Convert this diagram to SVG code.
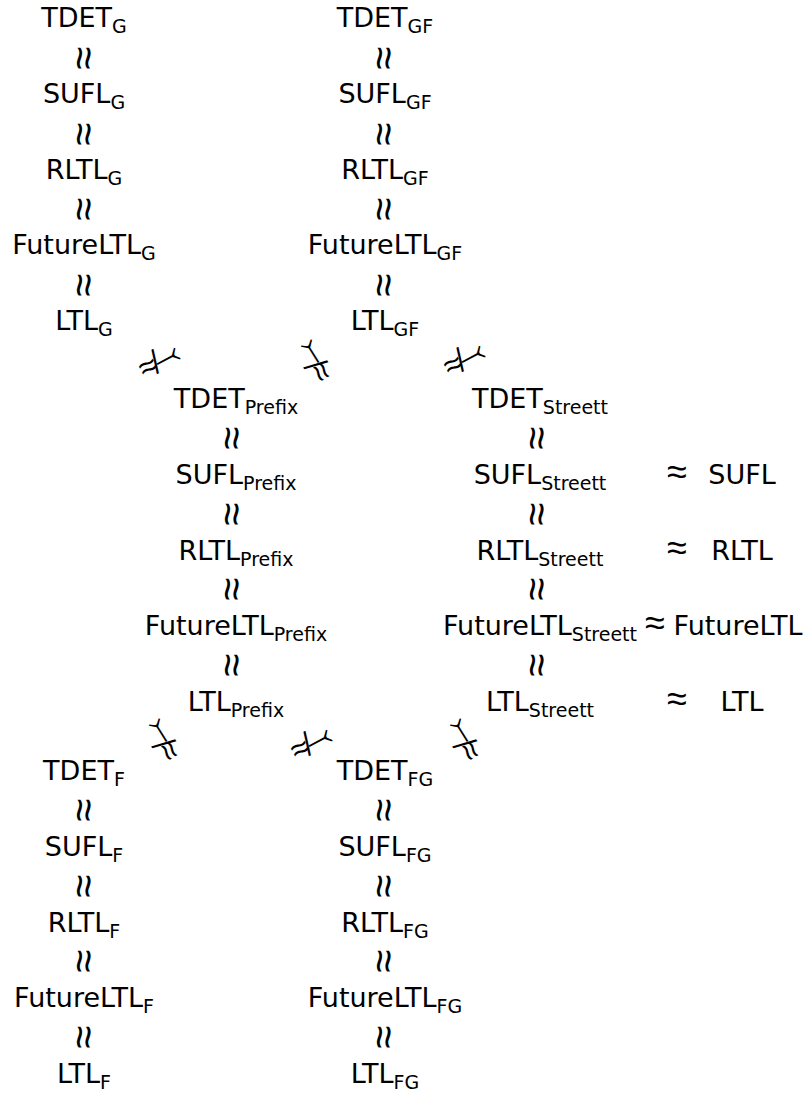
<svg xmlns="http://www.w3.org/2000/svg" width="810" height="1099" viewBox="0 0 810 1099">
<style>
text { font-family: "DejaVu Sans", "Liberation Sans", sans-serif; fill: #000; }
.n { font-size: 27px; text-anchor: middle; }
.s { font-size: 19px; }
.r { font-size: 27px; text-anchor: middle; }
.eq { font-size: 42px; font-weight: 200; text-anchor: middle; dominant-baseline: central; }
.eqh { font-size: 36px; font-weight: 200; text-anchor: middle; }
.d { font-size: 32px; font-weight: 200; text-anchor: middle; dominant-baseline: central; }
</style>
<rect width="810" height="1099" fill="#fff"/>

<!-- G family -->
<g id="tdet-g"><text class="n" x="84" y="27">TDET<tspan class="s" dy="6">G</tspan></text></g>
<g id="sufl-g"><text class="n" x="84" y="103">SUFL<tspan class="s" dy="6">G</tspan></text></g>
<g id="rltl-g"><text class="n" x="84" y="179">RLTL<tspan class="s" dy="6">G</tspan></text></g>
<g id="futureltl-g"><text class="n" x="84" y="254">FutureLTL<tspan class="s" dy="6">G</tspan></text></g>
<g id="ltl-g"><text class="n" x="84" y="330">LTL<tspan class="s" dy="6">G</tspan></text></g>

<!-- GF family -->
<g id="tdet-gf"><text class="n" x="385" y="27">TDET<tspan class="s" dy="6">GF</tspan></text></g>
<g id="sufl-gf"><text class="n" x="385" y="103">SUFL<tspan class="s" dy="6">GF</tspan></text></g>
<g id="rltl-gf"><text class="n" x="385" y="179">RLTL<tspan class="s" dy="6">GF</tspan></text></g>
<g id="futureltl-gf"><text class="n" x="385" y="254">FutureLTL<tspan class="s" dy="6">GF</tspan></text></g>
<g id="ltl-gf"><text class="n" x="385" y="330">LTL<tspan class="s" dy="6">GF</tspan></text></g>

<!-- Prefix family -->
<g id="tdet-prefix"><text class="n" x="236" y="408">TDET<tspan class="s" dy="6">Prefix</tspan></text></g>
<g id="sufl-prefix"><text class="n" x="236" y="484">SUFL<tspan class="s" dy="6">Prefix</tspan></text></g>
<g id="rltl-prefix"><text class="n" x="236" y="560">RLTL<tspan class="s" dy="6">Prefix</tspan></text></g>
<g id="futureltl-prefix"><text class="n" x="236" y="635">FutureLTL<tspan class="s" dy="6">Prefix</tspan></text></g>
<g id="ltl-prefix"><text class="n" x="236" y="711">LTL<tspan class="s" dy="6">Prefix</tspan></text></g>

<!-- Streett family -->
<g id="tdet-streett"><text class="n" x="540" y="408">TDET<tspan class="s" dy="6">Streett</tspan></text></g>
<g id="sufl-streett"><text class="n" x="540" y="484">SUFL<tspan class="s" dy="6">Streett</tspan></text></g>
<g id="rltl-streett"><text class="n" x="540" y="560">RLTL<tspan class="s" dy="6">Streett</tspan></text></g>
<g id="futureltl-streett"><text class="n" x="540" y="635">FutureLTL<tspan class="s" dy="6">Streett</tspan></text></g>
<g id="ltl-streett"><text class="n" x="540" y="711">LTL<tspan class="s" dy="6">Streett</tspan></text></g>

<!-- unrestricted logics -->
<g id="sufl"><text class="r" x="742" y="484">SUFL</text></g>
<g id="rltl"><text class="r" x="742" y="560">RLTL</text></g>
<g id="futureltl"><text class="r" x="738" y="635">FutureLTL</text></g>
<g id="ltl"><text class="r" x="742" y="711">LTL</text></g>

<!-- F family -->
<g id="tdet-f"><text class="n" x="84" y="780">TDET<tspan class="s" dy="6">F</tspan></text></g>
<g id="sufl-f"><text class="n" x="84" y="856">SUFL<tspan class="s" dy="6">F</tspan></text></g>
<g id="rltl-f"><text class="n" x="84" y="932">RLTL<tspan class="s" dy="6">F</tspan></text></g>
<g id="futureltl-f"><text class="n" x="84" y="1007">FutureLTL<tspan class="s" dy="6">F</tspan></text></g>
<g id="ltl-f"><text class="n" x="84" y="1083">LTL<tspan class="s" dy="6">F</tspan></text></g>

<!-- FG family -->
<g id="tdet-fg"><text class="n" x="385" y="780">TDET<tspan class="s" dy="6">FG</tspan></text></g>
<g id="sufl-fg"><text class="n" x="385" y="856">SUFL<tspan class="s" dy="6">FG</tspan></text></g>
<g id="rltl-fg"><text class="n" x="385" y="932">RLTL<tspan class="s" dy="6">FG</tspan></text></g>
<g id="futureltl-fg"><text class="n" x="385" y="1007">FutureLTL<tspan class="s" dy="6">FG</tspan></text></g>
<g id="ltl-fg"><text class="n" x="385" y="1083">LTL<tspan class="s" dy="6">FG</tspan></text></g>

<g id="connectors">
  <!-- vertical equivalences -->
  <text class="eq" transform="translate(84,58) rotate(90)">≈</text>
  <text class="eq" transform="translate(84,134) rotate(90)">≈</text>
  <text class="eq" transform="translate(84,209) rotate(90)">≈</text>
  <text class="eq" transform="translate(84,285) rotate(90)">≈</text>
  <text class="eq" transform="translate(384,58) rotate(90)">≈</text>
  <text class="eq" transform="translate(384,134) rotate(90)">≈</text>
  <text class="eq" transform="translate(384,209) rotate(90)">≈</text>
  <text class="eq" transform="translate(384,285) rotate(90)">≈</text>
  <text class="eq" transform="translate(232,438) rotate(90)">≈</text>
  <text class="eq" transform="translate(232,514) rotate(90)">≈</text>
  <text class="eq" transform="translate(232,589) rotate(90)">≈</text>
  <text class="eq" transform="translate(232,665) rotate(90)">≈</text>
  <text class="eq" transform="translate(537,438) rotate(90)">≈</text>
  <text class="eq" transform="translate(537,514) rotate(90)">≈</text>
  <text class="eq" transform="translate(537,589) rotate(90)">≈</text>
  <text class="eq" transform="translate(537,665) rotate(90)">≈</text>
  <text class="eq" transform="translate(84,810) rotate(90)">≈</text>
  <text class="eq" transform="translate(84,886) rotate(90)">≈</text>
  <text class="eq" transform="translate(84,961) rotate(90)">≈</text>
  <text class="eq" transform="translate(84,1037) rotate(90)">≈</text>
  <text class="eq" transform="translate(384,810) rotate(90)">≈</text>
  <text class="eq" transform="translate(384,886) rotate(90)">≈</text>
  <text class="eq" transform="translate(384,961) rotate(90)">≈</text>
  <text class="eq" transform="translate(384,1037) rotate(90)">≈</text>
  <!-- horizontal equivalences -->
  <text class="eqh" x="677" y="484">≈</text>
  <text class="eqh" x="677" y="560">≈</text>
  <text class="eqh" x="655" y="635">≈</text>
  <text class="eqh" x="677" y="711">≈</text>
  <!-- strict separations between fragments -->
  <text class="d" transform="translate(159,360) rotate(-28)">≉⤙</text>
  <text class="d" transform="translate(314,361) rotate(-122)">≉⤙</text>
  <text class="d" transform="translate(464,358) rotate(-28)">≉⤙</text>
  <text class="d" transform="translate(162,740) rotate(-122)">≉⤙</text>
  <text class="d" transform="translate(311,742) rotate(-28)">≉⤙</text>
  <text class="d" transform="translate(463,740) rotate(-122)">≉⤙</text>
</g>
</svg>
